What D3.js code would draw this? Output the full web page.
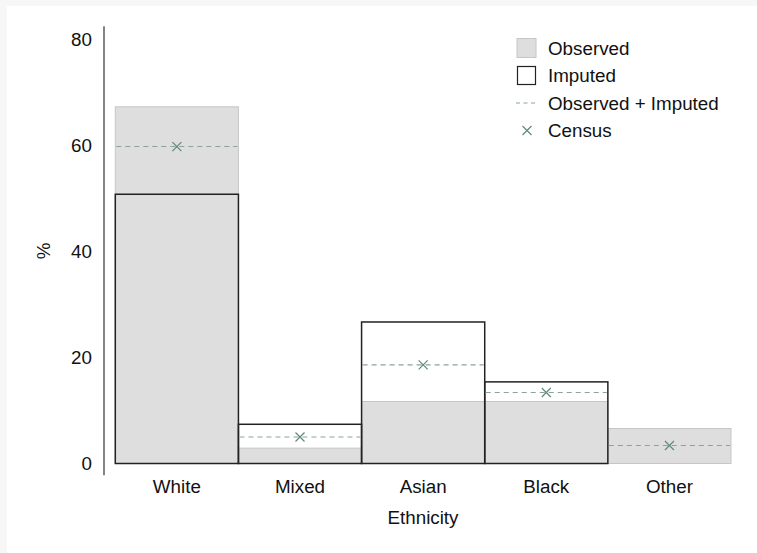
<!DOCTYPE html>
<html>
<head>
<meta charset="utf-8">
<script src="https://cdn.jsdelivr.net/npm/d3@7"></script>
<style>
  html, body { margin: 0; padding: 0; background: #f7f7f7; }
  svg { display: block; }
  text { font-family: "Liberation Sans", Arial, Helvetica, sans-serif; fill: #111; }
</style>
</head>
<body>
<script>
// Ethnic composition: observed share, imputed share, their combination, and census benchmark (%)
const categories = ["White", "Mixed", "Asian", "Black", "Other"];
const observed = [67.3, 2.9, 11.7, 11.7, 6.6];
const imputed = [50.8, 7.4, 26.7, 15.4, null];
const combined = [59.8, 5.0, 18.6, 13.4, 3.4];
const census = [59.8, 5.0, 18.6, 13.4, 3.4];
const yTicks = [0, 20, 40, 60, 80];
const legendItems = ["Observed", "Imputed", "Observed + Imputed", "Census"];

const W = 757, H = 553;
const FS = "18.8px";
const svg = d3.select("body").append("svg").attr("width", W).attr("height", H);

// white plotting panel
svg.append("rect").attr("x", 7).attr("y", 6).attr("width", W - 7).attr("height", H - 6).attr("fill", "#ffffff");

const x = d3.scaleBand().domain(categories).range([115.3, 731]).padding(0);
const y = d3.scaleLinear().domain([0, 80]).range([463.5, 39.5]);

const data = categories.map((c, i) => ({
  cat: c, obs: observed[i], imp: imputed[i], comb: combined[i], cen: census[i]
}));

const GREY_FILL = "#dedede", GREY_EDGE = "#c6c6c6";
const DASH_COL = "#8aa598", CROSS_COL = "#5e8a78";

// observed bars
svg.append("g").selectAll("rect").data(data).join("rect")
  .attr("x", d => x(d.cat)).attr("width", x.bandwidth())
  .attr("y", d => y(d.obs)).attr("height", d => y(0) - y(d.obs))
  .attr("fill", GREY_FILL).attr("stroke", GREY_EDGE).attr("stroke-width", 1);

// imputed bars (outline only)
svg.append("g").selectAll("rect").data(data.filter(d => d.imp != null)).join("rect")
  .attr("x", d => x(d.cat)).attr("width", x.bandwidth())
  .attr("y", d => y(d.imp)).attr("height", d => y(0) - y(d.imp))
  .attr("fill", "none").attr("stroke", "#222").attr("stroke-width", 1.5);

// combined level, dashed across each band
svg.append("g").selectAll("line").data(data).join("line")
  .attr("x1", d => x(d.cat) + 1).attr("x2", d => x(d.cat) + x.bandwidth() - 1)
  .attr("y1", d => y(d.comb)).attr("y2", d => y(d.comb))
  .attr("stroke", DASH_COL).attr("stroke-width", 1.1).attr("stroke-dasharray", "5,4");

// census markers
const crossPath = (cx, cy, r) => `M${cx - r},${cy - r}L${cx + r},${cy + r}M${cx - r},${cy + r}L${cx + r},${cy - r}`;
svg.append("g").selectAll("path").data(data).join("path")
  .attr("d", d => crossPath(x(d.cat) + x.bandwidth() / 2, y(d.cen), 4.5))
  .attr("fill", "none").attr("stroke", CROSS_COL).attr("stroke-width", 1.2);

// y axis
const yAxis = svg.append("g").attr("transform", "translate(104,0)")
  .call(d3.axisLeft(y).tickValues(yTicks).tickSize(0).tickPadding(12));
yAxis.select(".domain").remove();
yAxis.selectAll("text").style("font-size", FS).style("font-family", "'Liberation Sans', Arial, sans-serif").attr("fill", "#111");
svg.append("line").attr("x1", 104).attr("x2", 104)
  .attr("y1", y(82.5)).attr("y2", y(-2.2)).attr("stroke", "#333").attr("stroke-width", 1.2);

// x labels
svg.append("g").selectAll("text").data(categories).join("text")
  .attr("x", d => x(d) + x.bandwidth() / 2).attr("y", 493)
  .attr("text-anchor", "middle").style("font-size", FS).text(d => d);

svg.append("text").attr("x", 423).attr("y", 524).attr("text-anchor", "middle")
  .style("font-size", FS).text("Ethnicity");
svg.append("text").attr("transform", "translate(50,251) rotate(-90)")
  .attr("text-anchor", "middle").style("font-size", FS).text("%");

// legend
const rowY = d3.scaleLinear().domain([0, 3]).range([48, 130.5]);
const lg = svg.append("g");
lg.append("rect").attr("x", 517).attr("y", rowY(0) - 9.5).attr("width", 19).attr("height", 19)
  .attr("fill", GREY_FILL).attr("stroke", GREY_EDGE);
lg.append("rect").attr("x", 517.5).attr("y", rowY(1) - 9).attr("width", 18).attr("height", 18)
  .attr("fill", "none").attr("stroke", "#222").attr("stroke-width", 1.2);
lg.append("line").attr("x1", 516).attr("x2", 537).attr("y1", rowY(2)).attr("y2", rowY(2))
  .attr("stroke", DASH_COL).attr("stroke-width", 1.1).attr("stroke-dasharray", "4,3.5");
lg.append("path").attr("d", crossPath(527, rowY(3), 4.5))
  .attr("fill", "none").attr("stroke", CROSS_COL).attr("stroke-width", 1.2);
lg.selectAll("text.item").data(legendItems).join("text").attr("class", "item")
  .attr("x", 548).attr("y", (d, i) => rowY(i)).attr("dy", "0.35em")
  .style("font-size", FS).text(d => d);
</script>
</body>
</html>
